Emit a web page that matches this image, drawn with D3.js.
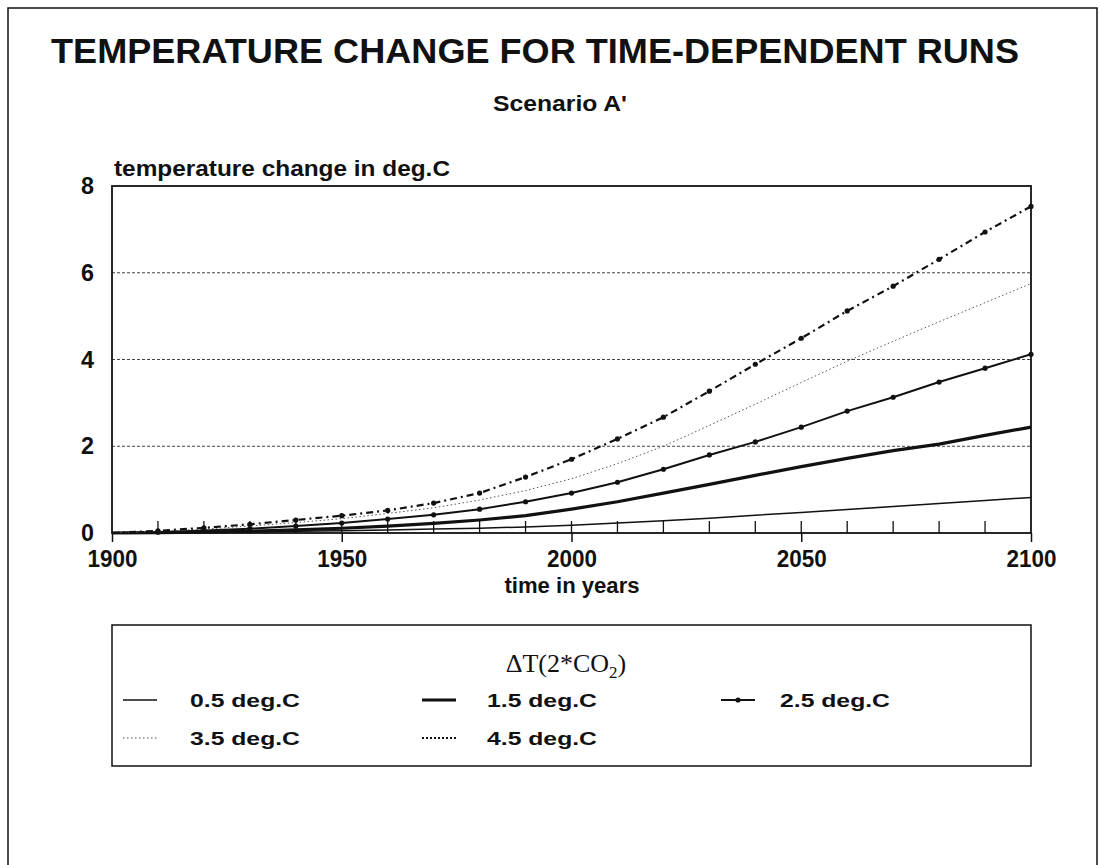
<!DOCTYPE html>
<html>
<head>
<meta charset="utf-8">
<script src="https://cdn.jsdelivr.net/npm/d3@7"></script>
<style>
  body { margin: 0; background: #fff; }
  svg { display: block; }
  text { font-family: "Liberation Sans", Arial, sans-serif; font-weight: bold; fill: #111; }
</style>
</head>
<body>
<svg id="chart" width="1100" height="865"></svg>
<script>
// data
var years = [1900,1910,1920,1930,1940,1950,1960,1970,1980,1990,2000,2010,2020,2030,2040,2050,2060,2070,2080,2090,2100];
var dt05 = [0,0.01,0.02,0.03,0.04,0.05,0.07,0.09,0.11,0.14,0.18,0.23,0.28,0.34,0.41,0.47,0.54,0.61,0.68,0.75,0.82];
var dt15 = [0,0.01,0.02,0.04,0.07,0.11,0.16,0.22,0.30,0.40,0.55,0.72,0.92,1.12,1.33,1.53,1.72,1.90,2.05,2.25,2.44];
var dt25 = [0,0.02,0.06,0.10,0.16,0.23,0.32,0.42,0.55,0.72,0.92,1.17,1.47,1.80,2.10,2.44,2.81,3.13,3.48,3.80,4.12];
var dt35 = [0,0.04,0.09,0.16,0.24,0.33,0.45,0.58,0.76,0.98,1.25,1.60,2.00,2.48,2.97,3.47,3.96,4.42,4.87,5.31,5.75];
var dt45 = [0,0.05,0.12,0.20,0.30,0.40,0.52,0.69,0.92,1.29,1.70,2.17,2.67,3.27,3.89,4.49,5.12,5.69,6.31,6.94,7.53];
var seriesNames = ["0.5 deg.C","1.5 deg.C","2.5 deg.C","3.5 deg.C","4.5 deg.C"];
var xTicks = [1900,1950,2000,2050,2100];
var yTicks = [0,2,4,6,8];

// line styles for each run
var STYLE = [
  {width: 1.5, dash: null, color: "#111", dots: false},
  {width: 3.2, dash: null, color: "#111", dots: false},
  {width: 2, dash: null, color: "#111", dots: true},
  {width: 1, dash: "1.5,2.5", color: "#555", dots: false},
  {width: 2.2, dash: "7,4,2,4", color: "#111", dots: true}
];

var svg = d3.select("#chart");
var X0 = 112, X1 = 1031, Y0 = 533, Y1 = 186;

var x = d3.scaleLinear().domain([1900, 2100]).range([X0, X1]);
var y = d3.scaleLinear().domain([0, 8]).range([Y0, Y1]);

// outer frame (no bottom edge in the scan)
svg.append("path")
   .attr("d", "M8,865 L8,8 L1097,8 L1097,865")
   .attr("fill", "none").attr("stroke", "#111").attr("stroke-width", 1.5);

// titles, condensed to the widths seen in the scan
svg.append("text").attr("x", 535).attr("y", 63).attr("text-anchor", "middle")
   .attr("font-size", 35).attr("textLength", 968).attr("lengthAdjust", "spacingAndGlyphs")
   .text("TEMPERATURE CHANGE FOR TIME-DEPENDENT RUNS");
svg.append("text").attr("x", 560).attr("y", 111).attr("text-anchor", "middle")
   .attr("font-size", 22).attr("textLength", 134).attr("lengthAdjust", "spacingAndGlyphs")
   .text("Scenario A'");
svg.append("text").attr("x", 114).attr("y", 176)
   .attr("font-size", 22).attr("textLength", 336).attr("lengthAdjust", "spacingAndGlyphs")
   .text("temperature change in deg.C");

// gridlines
svg.append("g").selectAll("line").data([2, 4, 6]).enter().append("line")
   .attr("x1", X0).attr("x2", X1)
   .attr("y1", function(d){ return y(d); }).attr("y2", function(d){ return y(d); })
   .attr("stroke", "#444").attr("stroke-width", 1).attr("stroke-dasharray", "3,2");

// plot frame
svg.append("rect").attr("x", X0).attr("y", Y1).attr("width", X1 - X0).attr("height", Y0 - Y1)
   .attr("fill", "none").attr("stroke", "#111").attr("stroke-width", 1.8);

// y axis labels
var yAxis = d3.axisLeft(y).tickValues(yTicks).tickSize(0).tickPadding(18).tickFormat(d3.format("d"));
var gy = svg.append("g").attr("transform", "translate(" + X0 + ",0)").call(yAxis);
gy.select(".domain").remove();
gy.selectAll("text").attr("font-size", 24).attr("textLength", 13).attr("lengthAdjust", "spacingAndGlyphs")
  .attr("font-family", "Liberation Sans, Arial").attr("font-weight", "bold").attr("fill", "#111");

// x axis: major ticks crossing the axis, decade ticks pointing up
var xAxis = d3.axisBottom(x).tickValues(xTicks).tickSize(9).tickPadding(8).tickFormat(d3.format("d"));
var gx = svg.append("g").attr("transform", "translate(0," + Y0 + ")").call(xAxis);
gx.select(".domain").remove();
gx.selectAll("line").attr("stroke", "#111").attr("stroke-width", 1.5);
gx.selectAll("text").attr("font-size", 24).attr("textLength", 50).attr("lengthAdjust", "spacingAndGlyphs")
  .attr("font-family", "Liberation Sans, Arial").attr("font-weight", "bold").attr("fill", "#111");

svg.append("g").selectAll("line").data(years.slice(1, -1)).enter().append("line")
   .attr("x1", function(d){ return x(d); }).attr("x2", function(d){ return x(d); })
   .attr("y1", Y0).attr("y2", Y0 - 12)
   .attr("stroke", "#111").attr("stroke-width", 1.3);

svg.append("text").attr("x", 572).attr("y", 593).attr("text-anchor", "middle")
   .attr("font-size", 22).attr("textLength", 135).attr("lengthAdjust", "spacingAndGlyphs")
   .text("time in years");

// curves
var allSeries = [dt05, dt15, dt25, dt35, dt45];
var line = d3.line()
   .x(function(d, i){ return x(years[i]); })
   .y(function(d){ return y(d); });

allSeries.forEach(function(s, k){
    var st = STYLE[k];
    svg.append("path").datum(s)
       .attr("d", line)
       .attr("fill", "none")
       .attr("stroke", st.color)
       .attr("stroke-width", st.width)
       .attr("stroke-dasharray", st.dash);
    if (st.dots) {
        svg.append("g").selectAll("circle").data(s.slice(1)).enter().append("circle")
           .attr("cx", function(d, i){ return x(years[i + 1]); })
           .attr("cy", function(d){ return y(d); })
           .attr("r", 2.6).attr("fill", "#111");
    }
});

// legend
svg.append("rect").attr("x", X0).attr("y", 625).attr("width", X1 - X0).attr("height", 141)
   .attr("fill", "none").attr("stroke", "#111").attr("stroke-width", 1.5);

var lt = svg.append("text").attr("x", 566).attr("y", 672).attr("text-anchor", "middle")
   .style("font-family", "'Liberation Serif', 'DejaVu Serif', serif").style("font-weight", "normal")
   .attr("font-size", 26);
lt.append("tspan").text("\u0394T(2*CO");
lt.append("tspan").attr("font-size", 17).attr("dy", 6).text("2");
lt.append("tspan").attr("dy", -6).text(")");

var legPos = [
  {sx: 123, tx: 190, y: 700},
  {sx: 422, tx: 487, y: 700},
  {sx: 721, tx: 780, y: 700},
  {sx: 123, tx: 190, y: 738},
  {sx: 422, tx: 487, y: 738}
];

legPos.forEach(function(p, k){
    var st = STYLE[k];
    svg.append("line").attr("x1", p.sx).attr("x2", p.sx + 34).attr("y1", p.y).attr("y2", p.y)
       .attr("stroke", st.color).attr("stroke-width", st.width)
       .attr("stroke-dasharray", k == 4 ? "2,2" : st.dash);
    if (k == 2) {
        svg.append("circle").attr("cx", p.sx + 17).attr("cy", p.y).attr("r", 2.6).attr("fill", "#111");
    }
    svg.append("text").attr("x", p.tx).attr("y", p.y + 7)
       .attr("font-size", 19).attr("textLength", 110).attr("lengthAdjust", "spacingAndGlyphs")
       .text(seriesNames[k]);
});
</script>
</body>
</html>
